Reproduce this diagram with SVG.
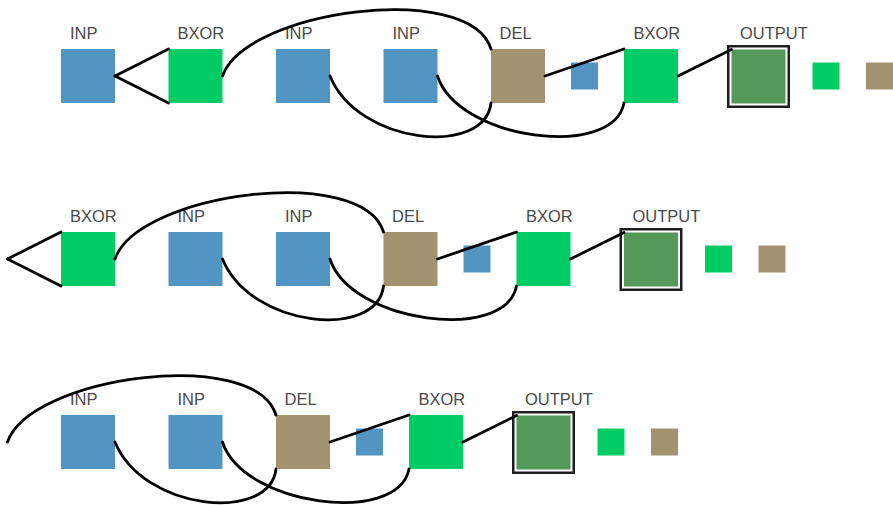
<svg xmlns="http://www.w3.org/2000/svg" width="893" height="505" viewBox="0 0 893 505">
<style>
.inp{fill:#5295c2}
.bxor{fill:#00cc66}
.del{fill:#a39270}
.out{fill:#54995a}
.frame{fill:none;stroke:#1e1e1e;stroke-width:2.5}
.lbl{font-family:"Liberation Sans",Arial,sans-serif;font-size:16.5px;fill:#4a4a4a}
.edge{fill:none;stroke:#000;stroke-width:2.8;stroke-linecap:round}
</style>
<rect width="893" height="505" fill="#fff"/>

<!-- Row 1 -->
<g id="row1">
  <g id="r1-inp1"><rect class="inp" x="61" y="49" width="54" height="54"/><text class="lbl" x="70" y="38.5">INP</text></g>
  <g id="r1-bxor1"><rect class="bxor" x="168.5" y="49" width="54" height="54"/><text class="lbl" x="177.5" y="38.5">BXOR</text></g>
  <g id="r1-inp2"><rect class="inp" x="276" y="49" width="54" height="54"/><text class="lbl" x="285" y="38.5">INP</text></g>
  <g id="r1-inp3"><rect class="inp" x="383.5" y="49" width="54" height="54"/><text class="lbl" x="392.5" y="38.5">INP</text></g>
  <g id="r1-del"><rect class="del" x="491" y="49" width="54" height="54"/><text class="lbl" x="499.5" y="38.5">DEL</text></g>
  <g id="r1-small-inp"><rect class="inp" x="571" y="62.5" width="27" height="27"/></g>
  <g id="r1-bxor2"><rect class="bxor" x="624" y="49" width="54" height="54"/><text class="lbl" x="633.5" y="38.5">BXOR</text></g>
  <g id="r1-output"><rect class="frame" x="728.25" y="46.25" width="60.5" height="60.5"/><rect class="out" x="731.5" y="49.5" width="54" height="54"/><text class="lbl" x="740" y="38.5">OUTPUT</text></g>
  <g id="r1-small-bxor"><rect class="bxor" x="812.5" y="62.5" width="27" height="27"/></g>
  <g id="r1-small-del"><rect class="del" x="866" y="62.5" width="27" height="27"/></g>
</g>

<!-- Row 2 -->
<g id="row2" transform="translate(-107.5,183)">
  <g id="r2-bxor1"><rect class="bxor" x="168.5" y="49" width="54" height="54"/><text class="lbl" x="177.5" y="38.5">BXOR</text></g>
  <g id="r2-inp2"><rect class="inp" x="276" y="49" width="54" height="54"/><text class="lbl" x="285" y="38.5">INP</text></g>
  <g id="r2-inp3"><rect class="inp" x="383.5" y="49" width="54" height="54"/><text class="lbl" x="392.5" y="38.5">INP</text></g>
  <g id="r2-del"><rect class="del" x="491" y="49" width="54" height="54"/><text class="lbl" x="499.5" y="38.5">DEL</text></g>
  <g id="r2-small-inp"><rect class="inp" x="571" y="62.5" width="27" height="27"/></g>
  <g id="r2-bxor2"><rect class="bxor" x="624" y="49" width="54" height="54"/><text class="lbl" x="633.5" y="38.5">BXOR</text></g>
  <g id="r2-output"><rect class="frame" x="728.25" y="46.25" width="60.5" height="60.5"/><rect class="out" x="731.5" y="49.5" width="54" height="54"/><text class="lbl" x="740" y="38.5">OUTPUT</text></g>
  <g id="r2-small-bxor"><rect class="bxor" x="812.5" y="62.5" width="27" height="27"/></g>
  <g id="r2-small-del"><rect class="del" x="866" y="62.5" width="27" height="27"/></g>
</g>

<!-- Row 3 -->
<g id="row3" transform="translate(-215,366)">
  <g id="r3-inp2"><rect class="inp" x="276" y="49" width="54" height="54"/><text class="lbl" x="285" y="38.5">INP</text></g>
  <g id="r3-inp3"><rect class="inp" x="383.5" y="49" width="54" height="54"/><text class="lbl" x="392.5" y="38.5">INP</text></g>
  <g id="r3-del"><rect class="del" x="491" y="49" width="54" height="54"/><text class="lbl" x="499.5" y="38.5">DEL</text></g>
  <g id="r3-small-inp"><rect class="inp" x="571" y="62.5" width="27" height="27"/></g>
  <g id="r3-bxor2"><rect class="bxor" x="624" y="49" width="54" height="54"/><text class="lbl" x="633.5" y="38.5">BXOR</text></g>
  <g id="r3-output"><rect class="frame" x="728.25" y="46.25" width="60.5" height="60.5"/><rect class="out" x="731.5" y="49.5" width="54" height="54"/><text class="lbl" x="740" y="38.5">OUTPUT</text></g>
  <g id="r3-small-bxor"><rect class="bxor" x="812.5" y="62.5" width="27" height="27"/></g>
  <g id="r3-small-del"><rect class="del" x="866" y="62.5" width="27" height="27"/></g>
</g>

<!-- Connectors -->
<g id="connectors">
  <g id="edges-row1">
    <path class="edge" d="M115,76 L168.5,49"/>
    <path class="edge" d="M115,76 L168.5,103"/>
    <path class="edge" d="M222.5,76 C245,10 470,-20 491,49"/>
    <path class="edge" d="M330,76 C358,145 485,157 491,103"/>
    <path class="edge" d="M437.5,76 C458,140 613,160 624,103"/>
    <path class="edge" d="M545,76 L624,49"/>
    <path class="edge" d="M678,76 L731.5,49.5"/>
  </g>
  <g id="edges-row2" transform="translate(-107.5,183)">
    <path class="edge" d="M115,76 L168.5,49"/>
    <path class="edge" d="M115,76 L168.5,103"/>
    <path class="edge" d="M222.5,76 C245,10 470,-20 491,49"/>
    <path class="edge" d="M330,76 C358,145 485,157 491,103"/>
    <path class="edge" d="M437.5,76 C458,140 613,160 624,103"/>
    <path class="edge" d="M545,76 L624,49"/>
    <path class="edge" d="M678,76 L731.5,49.5"/>
  </g>
  <g id="edges-row3" transform="translate(-215,366)">
    <path class="edge" d="M222.5,76 C245,10 470,-20 491,49"/>
    <path class="edge" d="M330,76 C358,145 485,157 491,103"/>
    <path class="edge" d="M437.5,76 C458,140 613,160 624,103"/>
    <path class="edge" d="M545,76 L624,49"/>
    <path class="edge" d="M678,76 L731.5,49.5"/>
  </g>
</g>
</svg>
